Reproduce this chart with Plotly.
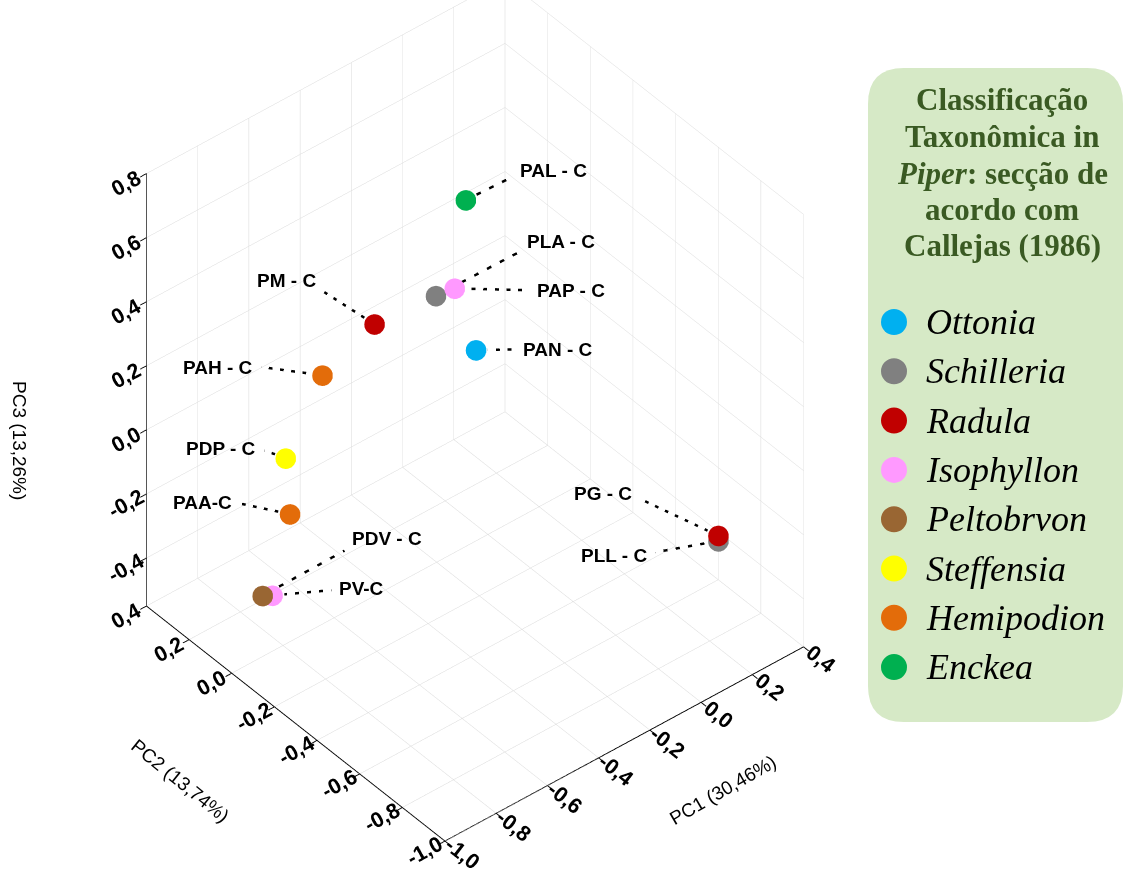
import math
import plotly.graph_objects as go

W, H = 1125, 879

# ---------------- data ----------------
labels = ["PAL - C", "PLA - C", "PAP - C", "PM - C", "PAN - C", "PAH - C",
          "PDP - C", "PAA-C", "PDV - C", "PV-C", "PG - C", "PLL - C"]
section = ["Enckea", "Schilleria", "Isophyllon", "Radula", "Ottonia", "Hemipodion",
           "Steffensia", "Hemipodion", "Peltobrvon", "Isophyllon", "Radula", "Schilleria"]
pc1 = [-0.17, -0.37, -0.38, -0.36, -0.38, -0.48, -0.79, -0.69, -0.88, -0.80, 0.20, 0.25]
pc2 = [-0.10, -0.20, -0.30, 0.10, -0.40, 0.20, 0.00, 0.10, 0.00, 0.05, -0.84, -0.78]
pc3 = [0.62, 0.46, 0.54, 0.21, 0.40, 0.05, 0.03, -0.24, -0.36, -0.42, -0.20, -0.27]

legend_names = ["Ottonia", "Schilleria", "Radula", "Isophyllon",
                "Peltobrvon", "Steffensia", "Hemipodion", "Enckea"]
legend_colors = ["#00b0f0", "#808080", "#c00000", "#ff99ff",
                 "#996633", "#ffff00", "#e36c0a", "#00b050"]

pc_ticks = [-1.0, -0.8, -0.6, -0.4, -0.2, 0.0, 0.2, 0.4]
pc_ticktext = ["-1,0", "-0,8", "-0,6", "-0,4", "-0,2", "0,0", "0,2", "0,4"]
pc3_ticks = [-0.4, -0.2, 0.0, 0.2, 0.4, 0.6, 0.8]
pc3_ticktext = ["-0,4", "-0,2", "0,0", "0,2", "0,4", "0,6", "0,8"]

axis_titles = ["PC1 (30,46%)", "PC2 (13,74%)", "PC3 (13,26%)"]

# ---------------- label placement (screen px: right, down) ----------------
label_off_px = [(47, -22), (84, -42), (75, 5), (-50, -35), (39, 1), (-61, -11),
                (-21, -9), (-50, -13), (82, -43), (59, -3), (-78, -41), (-63, 9)]
label_side = ["right", "right", "right", "left", "right", "left",
              "left", "left", "right", "right", "left", "left"]
label_yshift = [6, 10, 0, 12, 0, 0, 2, 1, 12, 2, 5, -3]

# approximate screen scale of the view (px per data unit)
PX_X, PX_XV, PX_Z = 256.1, 132.5, 330.0


def px_to_data(px, py):
    dx = px / PX_X
    dz = (-py - PX_XV * dx) / PX_Z
    return dx, dz


color_of = dict(zip(legend_names, legend_colors))

fig = go.Figure()

# leader lines
lx, ly, lz = [], [], []
ends = []
for i in range(len(labels)):
    px, py = label_off_px[i]
    dx, dz = px_to_data(px, py)
    f = min(0.5, 12.0 / math.hypot(px, py))
    sx, sz = pc1[i] + f * dx, pc3[i] + f * dz
    ex, ez = pc1[i] + dx, pc3[i] + dz
    ends.append((ex, pc2[i], ez))
    lx += [sx, ex, None]
    ly += [pc2[i], pc2[i], None]
    lz += [sz, ez, None]

fig.add_trace(go.Scatter3d(x=lx, y=ly, z=lz, mode="lines",
                           line=dict(color="black", width=5, dash="dash"),
                           hoverinfo="skip", showlegend=False))

for name in legend_names:
    idx = [i for i, s in enumerate(section) if s == name]
    fig.add_trace(go.Scatter3d(
        x=[pc1[i] for i in idx], y=[pc2[i] for i in idx], z=[pc3[i] for i in idx],
        mode="markers", name=name, showlegend=False,
        text=[labels[i] for i in idx],
        marker=dict(size=12, color=color_of[name], opacity=1, line=dict(width=0)),
    ))

scene_ann = []
for i, lab in enumerate(labels):
    ex, ey, ez = ends[i]
    right = label_side[i] == "right"
    scene_ann.append(dict(
        x=ex, y=ey, z=ez, text=lab, showarrow=False,
        xanchor="left" if right else "right", yanchor="middle",
        xshift=6 if right else -6, yshift=label_yshift[i],
        font=dict(family="Liberation Sans", size=19, color="black", weight="bold"),
    ))

axis_common = dict(
    showbackground=False, gridcolor="#d9d9d9", gridwidth=1,
    showline=True, linecolor="black", linewidth=2,
    ticks="outside", tickcolor="black", ticklen=8, tickwidth=2,
    zeroline=False, showspikes=False, autorange=False,
    tickfont=dict(family="Liberation Sans", size=16, color="black", weight="bold"),
    title=dict(text=""),
)

k = 1.735
eye = dict(x=-0.4991 * k, y=-0.6017 * k, z=0.6237 * k)
zoom = 1.06

fig.update_layout(
    width=W, height=H, margin=dict(l=0, r=0, t=0, b=0),
    paper_bgcolor="white", plot_bgcolor="white",
    scene=dict(
        domain=dict(x=[0.0, 0.844], y=[0.0, 1.0]),
        xaxis=dict(axis_common, range=[-1.0, 0.4], tickvals=pc_ticks, ticktext=pc_ticktext),
        yaxis=dict(axis_common, range=[-1.0, 0.4], tickvals=pc_ticks, ticktext=pc_ticktext),
        zaxis=dict(axis_common, range=[-0.55, 0.8], tickvals=pc3_ticks, ticktext=pc3_ticktext),
        aspectmode="manual",
        aspectratio=dict(x=1.0 * zoom, y=1.0036 * zoom, z=1.226 * zoom),
        camera=dict(eye=eye, up=dict(x=0, y=0, z=1), center=dict(x=0, y=0, z=-0.088),
                    projection=dict(type="orthographic")),
        annotations=scene_ann,
    ),
)

# ---------------- axis titles (drawn along the axes) ----------------
title_pos = [(722, 790, -30), (180, 780, 39), (20, 440, 90)]
annotations = []
for t, (tx, ty, ang) in zip(axis_titles, title_pos):
    annotations.append(dict(x=tx / W, y=1 - ty / H, xref="paper", yref="paper",
                            text=t, showarrow=False, textangle=ang,
                            xanchor="center", yanchor="middle",
                            font=dict(family="Liberation Sans", size=19, color="black")))

# ---------------- legend panel (rounded box) ----------------
x0, x1, y0, y1, r = 868, 1123, 68, 722, 36


def P(x, y):
    return f"{x / W:.5f},{1 - y / H:.5f}"


path = (f"M {P(x0 + r, y0)} L {P(x1 - r, y0)} Q {P(x1, y0)} {P(x1, y0 + r)} "
        f"L {P(x1, y1 - r)} Q {P(x1, y1)} {P(x1 - r, y1)} "
        f"L {P(x0 + r, y1)} Q {P(x0, y1)} {P(x0, y1 - r)} "
        f"L {P(x0, y0 + r)} Q {P(x0, y0)} {P(x0 + r, y0)} Z")
shapes = [dict(type="path", xref="paper", yref="paper", path=path,
               fillcolor="#d6e9c6", line=dict(width=0), layer="below")]

title_lines = ["Classificação", "Taxonômica in", "<i>Piper</i>: secção de",
               "acordo com", "Callejas (1986)"]
for j, t in enumerate(title_lines):
    annotations.append(dict(
        x=1002 / W, y=1 - (100 + 36.5 * j) / H, xref="paper", yref="paper",
        text=f"<b>{t}</b>", showarrow=False, xanchor="center", yanchor="middle",
        font=dict(family="Liberation Serif", size=31, color="#3a5a23")))

for j, (name, col) in enumerate(zip(legend_names, legend_colors)):
    yc = 322 + 49.3 * j
    shapes.append(dict(type="circle", xref="paper", yref="paper",
                       xsizemode="pixel", ysizemode="pixel",
                       xanchor=894 / W, yanchor=1 - yc / H,
                       x0=-13, x1=13, y0=-13, y1=13,
                       fillcolor=col, line=dict(width=0)))
    annotations.append(dict(
        x=924 / W, y=1 - yc / H, xref="paper", yref="paper",
        text=f"<i>{name}</i>", showarrow=False, xanchor="left", yanchor="middle",
        font=dict(family="Liberation Serif", size=36, color="black")))

fig.update_layout(shapes=shapes, annotations=annotations)

fig.write_html("out.html")
